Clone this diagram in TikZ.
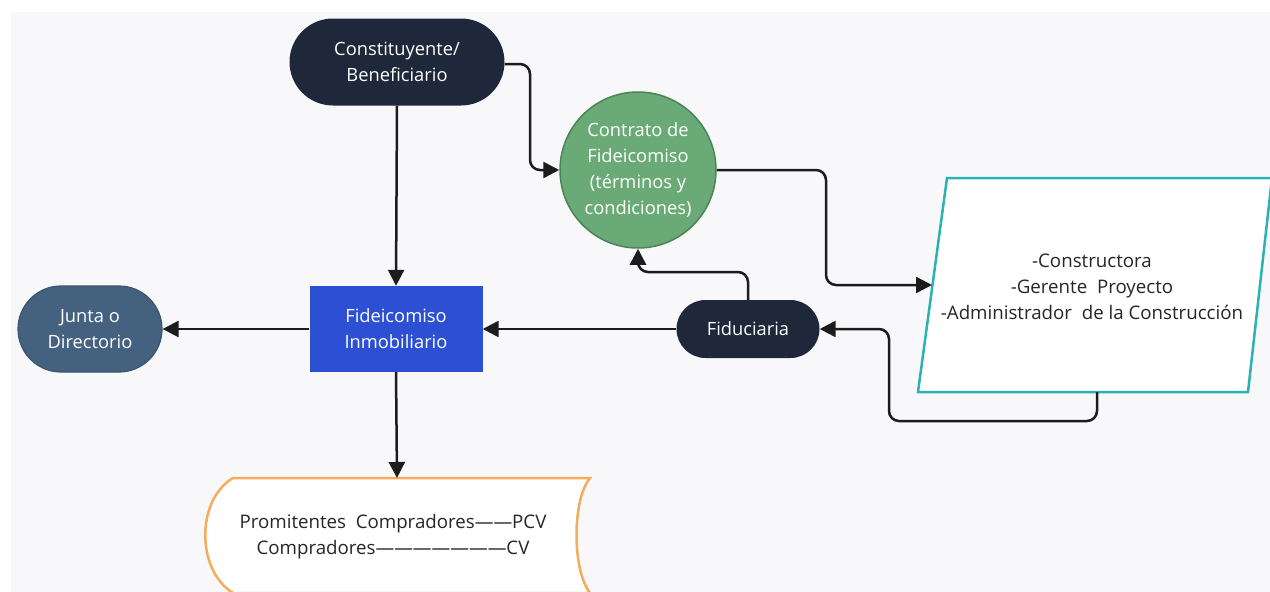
\documentclass[tikz,border=0pt]{standalone}
\usepackage{fontspec}
\setmainfont{Open Sans}
\usetikzlibrary{arrows.meta,shapes.geometric,shapes.misc,calc}
\definecolor{bgc}{HTML}{F8F8FA}
\definecolor{navy}{HTML}{1F283A}
\definecolor{greenf}{HTML}{6AAA76}
\definecolor{greenb}{HTML}{4A8558}
\definecolor{bluef}{HTML}{2C4FD4}
\definecolor{juntaf}{HTML}{44627F}
\definecolor{juntab}{HTML}{3A5570}
\definecolor{tealc}{HTML}{2BB3B3}
\definecolor{orangec}{HTML}{F5AD5A}
\definecolor{linec}{HTML}{1C1C1C}
\tikzset{
  txt/.style={font=\fontsize{18.3}{26}\selectfont, align=center},
  btxt/.style={font=\fontsize{18.7}{26}\selectfont, align=center, text=black!85},
  stadium/.style={txt, text=white, fill=navy, rounded rectangle, inner sep=0pt},
  conn/.style={draw=linec, line width=2.5pt, rounded corners=10pt, -{Triangle[length=16pt,width=16pt]}},
}
\begin{document}
\begin{tikzpicture}[x=1pt,y=-1pt]
\useasboundingbox (0,0) rectangle (1270,592);
\fill[bgc] (11,12) rectangle (1270,592);
\begin{scope}
\clip (11,12) rectangle (1270,592);
% document shape
\draw[orangec, line width=2.5pt, fill=white] (233,478) -- (590,478)
  .. controls (572,500) and (572,570) .. (590,593) -- (233,593)
  .. controls (196,570) and (196,500) .. (233,478) -- cycle;
% parallelogram
\draw[tealc, line width=2.5pt, fill=white] (947,178) -- (1272,178) -- (1248,392) -- (918,392) -- cycle;
\end{scope}
\coordinate (docn) at (397,478);
\node[btxt] (doc) at (393,537) {Promitentes\ \ Compradores——PCV\\Compradores———————CV};
\coordinate (parw) at (932,285);
\coordinate (pars) at (1097,392);
\node[btxt] (par) at (1092,287) {-Constructora\\-Gerente\ \ Proyecto\\-Administrador\ \ de la Construcción};

\node[stadium, minimum width=215pt, minimum height=87pt] (cons) at (397,62) {Constituyente/\\Beneficiario};
\node[txt, text=white, circle, fill=greenf, draw=greenb, line width=1.5pt, minimum size=156pt, inner sep=0pt] (con) at (638,170) {Contrato de\\Fideicomiso\\ (términos y\\condiciones)};
\node[txt, text=white, fill=bluef, minimum width=173pt, minimum height=86pt, inner sep=0pt] (fid) at (396,329) {Fideicomiso\\Inmobiliario};
\node[txt, text=white, rounded rectangle, fill=juntaf, draw=juntab, line width=1.2pt, minimum width=144pt, minimum height=86pt, inner sep=0pt] (jun) at (90,329) {Junta o\\Directorio};
\node[stadium, minimum width=143pt, minimum height=58pt] (fdu) at (748,329) {Fiduciaria};

\draw[conn] (cons.south) -- (fid.north);
\draw[conn] (cons.east |- 0,64) -| (530,120) |- (con.west);
\draw[conn] (con.east) -| (826,230) |- (parw);
\draw[conn] (fdu.north) |- (700,272) -| (con.south);
\draw[conn] (fdu.west) -- (fid.east);
\draw[conn] (pars) |- (950,421) -| (889,370) |- (fdu.east);
\draw[conn] (fid.west) -- (jun.east);
\draw[conn] (fid.south) -- (docn);
\end{tikzpicture}
\end{document}
